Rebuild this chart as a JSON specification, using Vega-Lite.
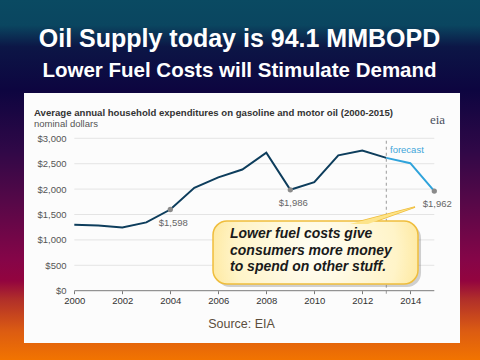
{
  "$schema": "https://vega.github.io/schema/vega-lite/v6.json",
  "width": 480,
  "height": 360,
  "autosize": "none",
  "padding": 0,
  "background": "#0c0640",
  "config": {
    "view": {
      "stroke": null,
      "fill": {
        "gradient": "linear",
        "x1": 0, "y1": 0, "x2": 0, "y2": 1,
        "stops": [
          {"offset": 0, "color": "#0a4a62"},
          {"offset": 0.07, "color": "#0a4660"},
          {"offset": 0.13, "color": "#0c1646"},
          {"offset": 0.25, "color": "#0d0540"},
          {"offset": 0.42, "color": "#300847"},
          {"offset": 0.56, "color": "#560848"},
          {"offset": 0.72, "color": "#850548"},
          {"offset": 0.78, "color": "#93043f"},
          {"offset": 0.83, "color": "#b02e2a"},
          {"offset": 0.92, "color": "#dc5c12"},
          {"offset": 1, "color": "#f27400"}
        ]
      }
    },
    "axis": {"grid": false, "title": null, "zindex": 1},
    "text": {"font": "Liberation Sans"}
  },
  "data": {"values": [{}]},
  "datasets": {
    "series": [
      {"year": 2000, "value": 1300, "series": "history"},
      {"year": 2001, "value": 1285, "series": "history"},
      {"year": 2002, "value": 1245, "series": "history"},
      {"year": 2003, "value": 1345, "series": "history"},
      {"year": 2004, "value": 1598, "series": "history"},
      {"year": 2005, "value": 2025, "series": "history"},
      {"year": 2006, "value": 2230, "series": "history"},
      {"year": 2007, "value": 2385, "series": "history"},
      {"year": 2008, "value": 2715, "series": "history"},
      {"year": 2009, "value": 1986, "series": "history"},
      {"year": 2010, "value": 2135, "series": "history"},
      {"year": 2011, "value": 2665, "series": "history"},
      {"year": 2012, "value": 2760, "series": "history"},
      {"year": 2013, "value": 2615, "series": "history"},
      {"year": 2013, "value": 2615, "series": "forecast"},
      {"year": 2014, "value": 2510, "series": "forecast"},
      {"year": 2015, "value": 1962, "series": "forecast"}
    ],
    "labels": [
      {"year": 2004, "value": 1598, "label": "$1,598"},
      {"year": 2009, "value": 1986, "label": "$1,986"},
      {"year": 2015, "value": 1962, "label": "$1,962"}
    ],
    "grid": [
      {"value": 500}, {"value": 1000}, {"value": 1500},
      {"value": 2000}, {"value": 2500}, {"value": 3000}
    ]
  },
  "layer": [
    {
      "mark": {"type": "rect", "fill": "#fcfcfc"},
      "encoding": {
        "x": {"datum": 1997.904, "type": "quantitative", "scale": {"domain": [1996.904, 2016.904], "nice": false, "zero": false}},
        "x2": {"datum": 2016.071},
        "y": {"datum": 3891.7, "type": "quantitative", "scale": {"domain": [-1364.2, 5722.4], "nice": false, "zero": false}},
        "y2": {"datum": -1029.5}
      }
    },
    {
      "data": {"name": "grid"},
      "mark": {"type": "rule", "color": "#e4e4e4", "strokeWidth": 1},
      "encoding": {
        "x": {"datum": 2000, "type": "quantitative"},
        "x2": {"datum": 2015},
        "y": {"field": "value", "type": "quantitative"}
      }
    },
    {
      "mark": {"type": "rule", "color": "#9a9a9a", "strokeWidth": 1, "strokeDash": [3, 3]},
      "encoding": {
        "x": {"datum": 2013, "type": "quantitative"},
        "y": {"datum": -60, "type": "quantitative"},
        "y2": {"datum": 2960}
      }
    },
    {
      "mark": {"type": "rule", "color": "#7a7a7a", "strokeWidth": 1},
      "encoding": {
        "x": {"datum": 2000, "type": "quantitative"},
        "x2": {"datum": 2015},
        "y": {"datum": 0, "type": "quantitative"}
      }
    },
    {
      "data": {"name": "series"},
      "mark": {"type": "line", "strokeWidth": 2},
      "encoding": {
        "x": {
          "field": "year", "type": "quantitative",
          "scale": {"domain": [1996.904, 2016.904], "nice": false, "zero": false},
          "axis": {
            "values": [2000, 2001, 2002, 2003, 2004, 2005, 2006, 2007, 2008, 2009, 2010, 2011, 2012, 2013, 2014, 2015],
            "format": "d",
            "labelExpr": "datum.value % 2 == 0 ? datum.label : ''",
            "offset": -69.3,
            "domain": false,
            "grid": false,
            "ticks": true,
            "tickSize": 3,
            "tickColor": "#777777",
            "labelPadding": 2,
            "labelFont": "Liberation Sans",
            "labelFontSize": 9.5,
            "labelColor": "#333333",
            "labelFlush": false,
            "labelOverlap": false,
            "title": null,
            "zindex": 1
          }
        },
        "y": {
          "field": "value", "type": "quantitative",
          "scale": {"domain": [-1364.2, 5722.4], "nice": false, "zero": false},
          "axis": {
            "values": [0, 500, 1000, 1500, 2000, 2500, 3000],
            "format": "$,.0f",
            "offset": -73,
            "domain": false,
            "ticks": false,
            "tickSize": 0,
            "grid": false,
            "labelPadding": 7,
            "labelFont": "Liberation Sans",
            "labelFontSize": 9.5,
            "labelColor": "#555555",
            "labelFlush": false,
            "labelOverlap": false,
            "title": null,
            "zindex": 1
          }
        },
        "color": {
          "field": "series", "type": "nominal",
          "scale": {"domain": ["history", "forecast"], "range": ["#0d3d5c", "#2fa3db"]},
          "legend": null
        }
      }
    },
    {
      "data": {"name": "labels"},
      "mark": {"type": "point", "filled": true, "size": 28, "color": "#8a8a8a", "opacity": 1},
      "encoding": {
        "x": {"field": "year", "type": "quantitative"},
        "y": {"field": "value", "type": "quantitative"}
      }
    },
    {
      "data": {"name": "labels"},
      "mark": {"type": "text", "fontSize": 9.5, "color": "#666666", "dx": 3, "dy": 16, "baseline": "alphabetic", "align": "center"},
      "encoding": {
        "x": {"field": "year", "type": "quantitative"},
        "y": {"field": "value", "type": "quantitative"},
        "text": {"field": "label"}
      }
    },
    {
      "mark": {"type": "text", "fontSize": 9.5, "color": "#3fa6da", "align": "left", "baseline": "alphabetic"},
      "encoding": {
        "x": {"datum": 2013.154, "type": "quantitative"},
        "y": {"datum": 2716.5, "type": "quantitative"},
        "text": {"value": "forecast"}
      }
    },
    {
      "mark": {"type": "point", "shape": "M -1 0.292 L 1 -0.231 L -0.446 0.292 Z", "size": 4225, "filled": true, "fill": "#fde48a", "stroke": "#efbd3c", "strokeWidth": 1.5, "opacity": 1},
      "encoding": {
        "x": {"datum": 2012.842, "type": "quantitative"},
        "y": {"datum": 1500, "type": "quantitative"}
      }
    },
    {
      "mark": {"type": "rect", "cornerRadius": 14, "fill": "#7a7a7a", "opacity": 0.35},
      "encoding": {
        "x": {"datum": 2005.904, "type": "quantitative"},
        "x2": {"datum": 2014.446},
        "y": {"datum": 1313, "type": "quantitative"},
        "y2": {"datum": 72.8}
      }
    },
    {
      "mark": {
        "type": "rect", "cornerRadius": 14, "stroke": "#efbd3c", "strokeWidth": 1.5,
        "fill": {
          "gradient": "radial",
          "x1": 0.5, "y1": 0.5, "r1": 0,
          "x2": 0.5, "y2": 0.5, "r2": 0.72,
          "stops": [
            {"offset": 0, "color": "#fffef6"},
            {"offset": 0.55, "color": "#fff4c8"},
            {"offset": 1, "color": "#fdd760"}
          ]
        }
      },
      "encoding": {
        "x": {"datum": 2005.779, "type": "quantitative"},
        "x2": {"datum": 2014.321},
        "y": {"datum": 1372, "type": "quantitative"},
        "y2": {"datum": 131.9}
      }
    },
    {
      "mark": {"type": "point", "shape": "M -1 0.292 L 1 -0.231 L -0.446 0.292 Z", "size": 4225, "filled": true, "fill": "#fde48a", "strokeWidth": 0, "opacity": 1},
      "encoding": {
        "x": {"datum": 2012.842, "type": "quantitative"},
        "y": {"datum": 1500, "type": "quantitative"}
      }
    },
    {
      "mark": {"type": "text", "fontSize": 14, "fontWeight": "bold", "fontStyle": "italic", "color": "#1a1a1a", "align": "left", "baseline": "alphabetic", "lineBreak": "\n", "lineHeight": 16.5},
      "encoding": {
        "x": {"datum": 2006.487, "type": "quantitative"},
        "y": {"datum": 1031.5, "type": "quantitative"},
        "text": {"value": "Lower fuel costs give\nconsumers more money\nto spend on other stuff."}
      }
    },
    {
      "mark": {"type": "text", "fontSize": 9.6, "fontWeight": "bold", "color": "#333333", "align": "left", "baseline": "alphabetic"},
      "encoding": {
        "x": {"datum": 1998.321, "type": "quantitative"},
        "y": {"datum": 3445, "type": "quantitative"},
        "text": {"value": "Average annual household expenditures on gasoline and motor oil (2000-2015)"}
      }
    },
    {
      "mark": {"type": "text", "fontSize": 9.5, "color": "#555555", "align": "left", "baseline": "alphabetic"},
      "encoding": {
        "x": {"datum": 1998.321, "type": "quantitative"},
        "y": {"datum": 3228, "type": "quantitative"},
        "text": {"value": "nominal dollars"}
      }
    },
    {
      "mark": {"type": "text", "fontSize": 13, "font": "Liberation Serif", "color": "#4a5060", "align": "center", "baseline": "alphabetic"},
      "encoding": {
        "x": {"datum": 2015.133, "type": "quantitative"},
        "y": {"datum": 3281, "type": "quantitative"},
        "text": {"value": "eia"}
      }
    },
    {
      "mark": {"type": "text", "fontSize": 12.5, "color": "#5b4e3d", "align": "center", "baseline": "alphabetic"},
      "encoding": {
        "x": {"datum": 2006.967, "type": "quantitative"},
        "y": {"datum": -740, "type": "quantitative"},
        "text": {"value": "Source: EIA"}
      }
    },
    {
      "mark": {"type": "text", "fontSize": 25, "fontWeight": "bold", "color": "#ffffff", "align": "center", "baseline": "alphabetic"},
      "encoding": {
        "x": {"datum": 2006.883, "type": "quantitative"},
        "y": {"datum": 4797, "type": "quantitative"},
        "text": {"value": "Oil Supply today is 94.1 MMBOPD"}
      }
    },
    {
      "mark": {"type": "text", "fontSize": 20.5, "fontWeight": "bold", "color": "#ffffff", "align": "center", "baseline": "alphabetic"},
      "encoding": {
        "x": {"datum": 2006.883, "type": "quantitative"},
        "y": {"datum": 4207, "type": "quantitative"},
        "text": {"value": "Lower Fuel Costs will Stimulate Demand"}
      }
    }
  ]
}
